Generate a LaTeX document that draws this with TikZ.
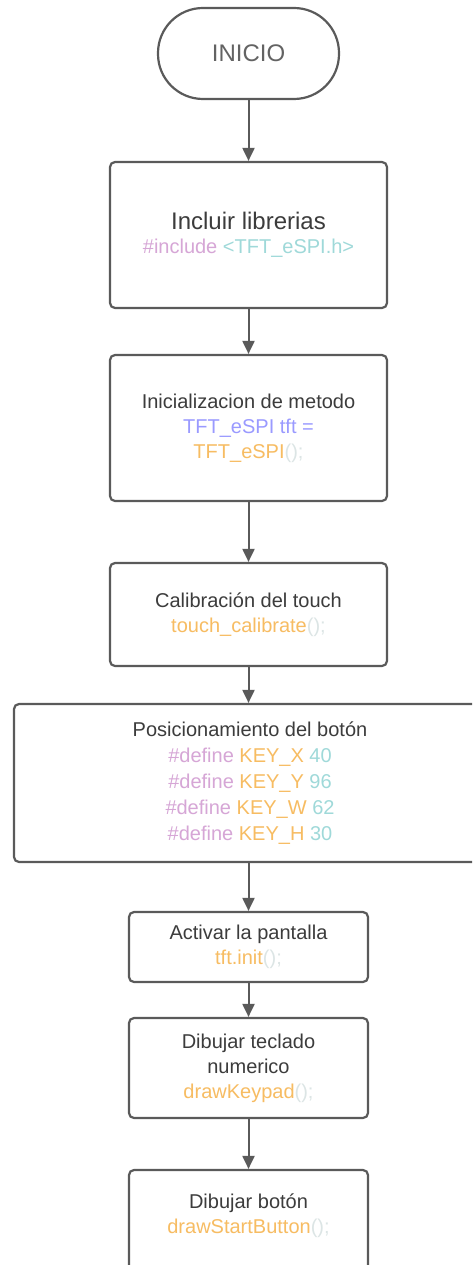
\documentclass[tikz,border=0pt]{standalone}
\usepackage{fontspec}
\setmainfont{Liberation Sans}
\usetikzlibrary{arrows.meta}
\definecolor{pk}{HTML}{D6A6D6}
\definecolor{cy}{HTML}{9FD9D9}
\definecolor{bl}{HTML}{9A9AFF}
\definecolor{org}{HTML}{F7BC62}
\definecolor{par}{HTML}{DCE5E5}
\definecolor{ttl}{HTML}{3C3C3C}
\definecolor{edge}{HTML}{5A5A5A}
\tikzset{
  box/.style={draw=edge, line width=2.2pt, rounded corners=5pt, fill=white, align=center,
    text=ttl, font=\fontsize{20}{25}\selectfont, inner sep=0pt},
  term/.style={draw=edge, line width=2.2pt, rounded corners=45pt, fill=white,
    text=ttl!80, font=\fontsize{24}{28}\selectfont, inner sep=0pt,
    minimum width=181pt, minimum height=91pt},
  txt/.style={align=center, text=ttl, font=\fontsize{20}{25}\selectfont, inner sep=0pt},
  flow/.style={draw=edge, line width=2pt, -{Triangle[length=13pt,width=12pt]}}
}
\begin{document}
\begin{tikzpicture}[x=1pt,y=-1pt]
\useasboundingbox (0,0) rectangle (472,1265);
\clip (0,0) rectangle (472,1265);
\node[term] (ini) at (248.5,53.5) {INICIO};
\node[box, minimum width=277pt, minimum height=146pt] (b1) at (248.5,235)
  {{\fontsize{24}{27}\selectfont Incluir librerias}\\[-1pt]
   \textcolor{pk}{\#include} \textcolor{cy}{<TFT\_eSPI.h>}};
\node[box, minimum width=277pt, minimum height=146pt] (b2) at (248.5,428)
  {Inicializacion de metodo\\
   \textcolor{bl}{TFT\_eSPI tft =}\\
   \textcolor{org}{TFT\_eSPI}\textcolor{par}{();}};
\node[box, minimum width=277pt, minimum height=103pt] (b3) at (248.5,614.5)
  {Calibración del touch\\
   \textcolor{org}{touch\_calibrate}\textcolor{par}{();}};
\node[box, minimum width=472pt, minimum height=158pt,
  font=\fontsize{20}{26}\selectfont] (b4) at (250,783)
  {Posicionamiento del botón\\
   \textcolor{pk}{\#define} \textcolor{org}{KEY\_X} \textcolor{cy}{40}\\
   \textcolor{pk}{\#define} \textcolor{org}{KEY\_Y} \textcolor{cy}{96}\\
   \textcolor{pk}{\#define} \textcolor{org}{KEY\_W} \textcolor{cy}{62}\\
   \textcolor{pk}{\#define} \textcolor{org}{KEY\_H} \textcolor{cy}{30}};
\node[box, minimum width=239pt, minimum height=70pt] (b5) at (248.5,947)
  {Activar la pantalla\\
   \textcolor{org}{tft.init}\textcolor{par}{();}};
\node[box, minimum width=239pt, minimum height=100pt] (b6) at (248.5,1068)
  {Dibujar teclado\\ numerico\\
   \textcolor{org}{drawKeypad}\textcolor{par}{();}};
\node[box, minimum width=239pt, minimum height=130pt] (b7) at (248.5,1235) {};
\node[txt] (t7) at (248.5,1216)
  {Dibujar botón\\
   \textcolor{org}{drawStartButton}\textcolor{par}{();}};
\draw[flow] (ini) -- (b1);
\draw[flow] (b1) -- (b2);
\draw[flow] (b2) -- (b3);
\draw[flow] (b3.south) -- (b3.south |- b4.north);
\draw[flow] (b4.south -| b5.north) -- (b5.north);
\draw[flow] (b5) -- (b6);
\draw[flow] (b6) -- (b7);
\end{tikzpicture}
\end{document}
